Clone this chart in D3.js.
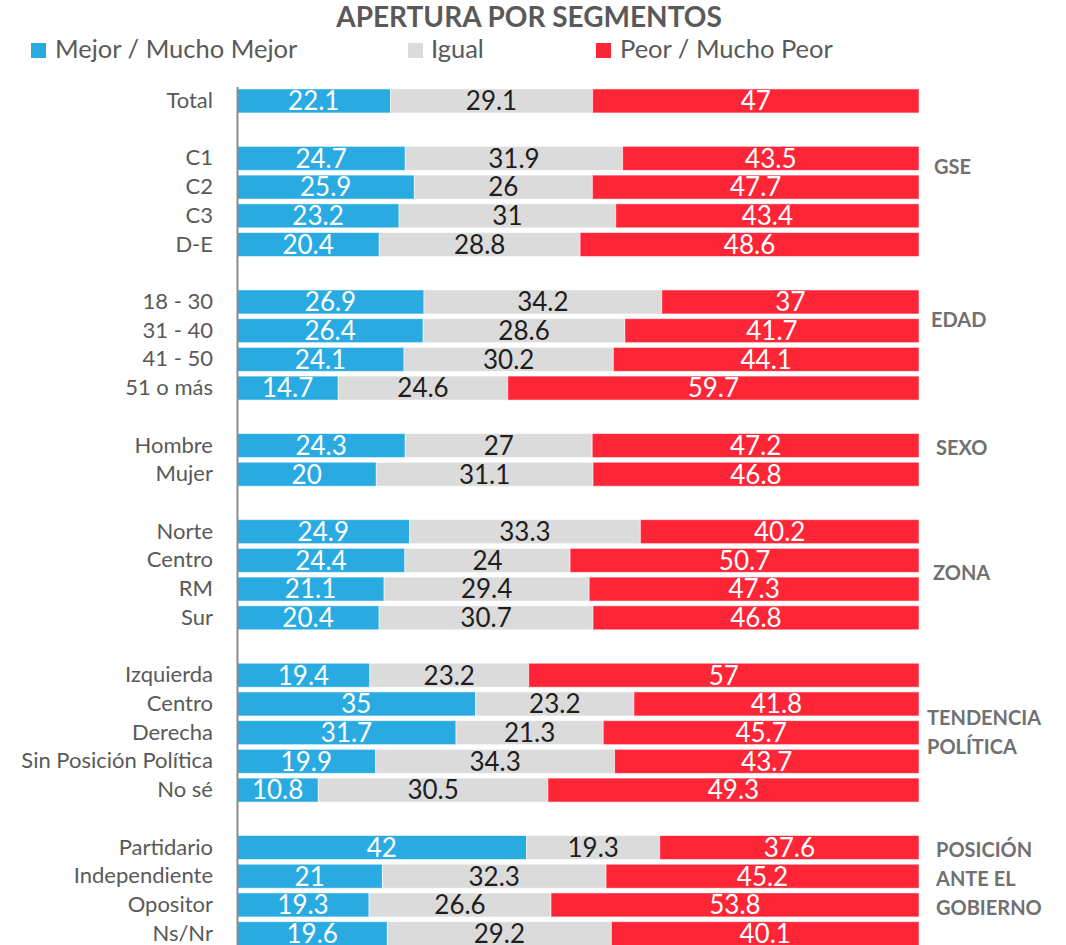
<!DOCTYPE html>
<html>
<head>
<meta charset="utf-8">
<script src="https://cdn.jsdelivr.net/npm/d3@7"></script>
<style>
  html, body { margin: 0; padding: 0; background: #fff; }
  svg { display: block; font-family: Lato, "Open Sans", sans-serif; }
</style>
</head>
<body>
<svg id="chart" width="1066" height="945"></svg>
<script>
// ---------- DATA ----------
const title = "APERTURA POR SEGMENTOS";
const seriesNames = ["Mejor / Mucho Mejor", "Igual", "Peor / Mucho Peor"];
const seriesKeys = ["mejor", "igual", "peor"];

const groupNames = ["", "GSE", "EDAD", "SEXO", "ZONA", "TENDENCIA POLÍTICA", "POSICIÓN ANTE EL GOBIERNO"];
const groupLabelLines = [[], ["GSE"], ["EDAD"], ["SEXO"], ["ZONA"], ["TENDENCIA", "POLÍTICA"], ["POSICIÓN", "ANTE EL", "GOBIERNO"]];

const categories = [
  ["Total"],
  ["C1", "C2", "C3", "D-E"],
  ["18 - 30", "31 - 40", "41 - 50", "51 o más"],
  ["Hombre", "Mujer"],
  ["Norte", "Centro", "RM", "Sur"],
  ["Izquierda", "Centro", "Derecha", "Sin Posición Política", "No sé"],
  ["Partidario", "Independiente", "Opositor", "Ns/Nr"]
];

const mejor = [
  [22.1],
  [24.7, 25.9, 23.2, 20.4],
  [26.9, 26.4, 24.1, 14.7],
  [24.3, 20],
  [24.9, 24.4, 21.1, 20.4],
  [19.4, 35, 31.7, 19.9, 10.8],
  [42, 21, 19.3, 19.6]
];
const igual = [
  [29.1],
  [31.9, 26, 31, 28.8],
  [34.2, 28.6, 30.2, 24.6],
  [27, 31.1],
  [33.3, 24, 29.4, 30.7],
  [23.2, 23.2, 21.3, 34.3, 30.5],
  [19.3, 32.3, 26.6, 29.2]
];
const peor = [
  [47],
  [43.5, 47.7, 43.4, 48.6],
  [37, 41.7, 44.1, 59.7],
  [47.2, 46.8],
  [40.2, 50.7, 47.3, 46.8],
  [57, 41.8, 45.7, 43.7, 49.3],
  [37.6, 45.2, 53.8, 40.1]
];

// ---------- LAYOUT / STYLE ----------
const colors = { mejor: "#29ABE2", igual: "#DBDBDB", peor: "#FE2537" };
const valueColors = { mejor: "#ffffff", igual: "#1e1e1e", peor: "#ffffff" };
// group label placement: left x and vertical centre (in row steps from group's first row)
const groupLabelLayout = [
  null,
  { x: 934, rowOffset: 0.28 },
  { x: 931, rowOffset: 0.63 },
  { x: 936, rowOffset: 0.08 },
  { x: 933, rowOffset: 1.45 },
  { x: 927, rowOffset: 2.0 },
  { x: 936, rowOffset: 1.08 }
];

// ---------- BUILD ROWS ----------
const rows = [];
const groupFirstRow = [];
categories.forEach((cats, g) => {
  if (g > 0) rows.push({ id: "sp" + g, spacer: true, label: "" });
  groupFirstRow.push("r" + g + "_0");
  cats.forEach((c, i) => {
    rows.push({
      id: "r" + g + "_" + i, spacer: false, label: c, group: g,
      mejor: mejor[g][i], igual: igual[g][i], peor: peor[g][i]
    });
  });
});
const dataRows = rows.filter(r => !r.spacer);

const svg = d3.select("#chart");

const x = d3.scaleLinear().domain([0, 1]).range([237, 919]);
const y = d3.scaleBand()
  .domain(rows.map(r => r.id))
  .range([86.6, 948])
  .paddingInner(0.164)
  .paddingOuter(0.082);

const stack = d3.stack().keys(seriesKeys).offset(d3.stackOffsetExpand);
const stacked = stack(dataRows);

// ---------- TITLE ----------
svg.append("text")
  .attr("x", 529).attr("y", 27)
  .attr("text-anchor", "middle")
  .attr("font-size", 28).attr("font-weight", 700)
  .attr("fill", "#595959")
  .text(title);

// ---------- LEGEND ----------
const legendPos = [{ sx: 31, tx: 55 }, { sx: 408, tx: 431 }, { sx: 596, tx: 620 }];
const legend = svg.append("g");
seriesKeys.forEach((k, i) => {
  legend.append("rect")
    .attr("x", legendPos[i].sx).attr("y", 43)
    .attr("width", 15).attr("height", 15)
    .attr("fill", colors[k]);
  legend.append("text")
    .attr("x", legendPos[i].tx).attr("y", 58)
    .attr("font-size", 25.5).attr("fill", "#595959")
    .text(seriesNames[i]);
});

// ---------- BARS ----------
const layers = svg.append("g").selectAll("g.layer")
  .data(stacked).join("g")
  .attr("class", "layer")
  .attr("fill", d => colors[d.key]);

layers.selectAll("rect")
  .data(d => d.map(s => ({ s, key: d.key })))
  .join("rect")
  .attr("x", d => x(d.s[0]))
  .attr("y", d => y(d.s.data.id))
  .attr("width", d => x(d.s[1]) - x(d.s[0]))
  .attr("height", y.bandwidth())
  .attr("stroke", "#ffffff").attr("stroke-opacity", 0.55).attr("stroke-width", 1);

// value labels
layers.selectAll("text")
  .data(d => d.map(s => ({ s, key: d.key })))
  .join("text")
  .attr("x", d => (x(d.s[0]) + x(d.s[1])) / 2)
  .attr("y", d => y(d.s.data.id) + y.bandwidth() / 2)
  .attr("dy", "0.36em")
  .attr("text-anchor", "middle")
  .attr("font-size", 26)
  .attr("fill", d => valueColors[d.key])
  .text(d => String(d.s.data[d.key]));

// ---------- AXIS ----------
const labelById = new Map(rows.map(r => [r.id, r.label]));
const axis = svg.append("g")
  .attr("transform", `translate(${x(0)},0)`)
  .call(d3.axisLeft(y).tickSize(0).tickSizeOuter(0).tickPadding(24)
    .tickFormat(id => labelById.get(id)));
axis.select(".domain").attr("stroke", "#8c8c8c").attr("stroke-width", 2);
axis.selectAll(".tick text")
  .attr("font-size", 22)
  .attr("font-family", "Lato, 'Open Sans', sans-serif")
  .attr("fill", "#595959");

// ---------- GROUP LABELS ----------
const step = y.step();
groupLabelLines.forEach((lines, g) => {
  if (!lines.length) return;
  const lay = groupLabelLayout[g];
  const cy = y(groupFirstRow[g]) + y.bandwidth() / 2 + lay.rowOffset * step;
  const lh = 29;
  const t = svg.append("text")
    .attr("font-size", 20).attr("font-weight", 700)
    .attr("fill", "#707070");
  lines.forEach((ln, i) => {
    t.append("tspan")
      .attr("x", lay.x)
      .attr("y", cy + (i - (lines.length - 1) / 2) * lh)
      .attr("dy", "0.36em")
      .text(ln);
  });
});
</script>
</body>
</html>
